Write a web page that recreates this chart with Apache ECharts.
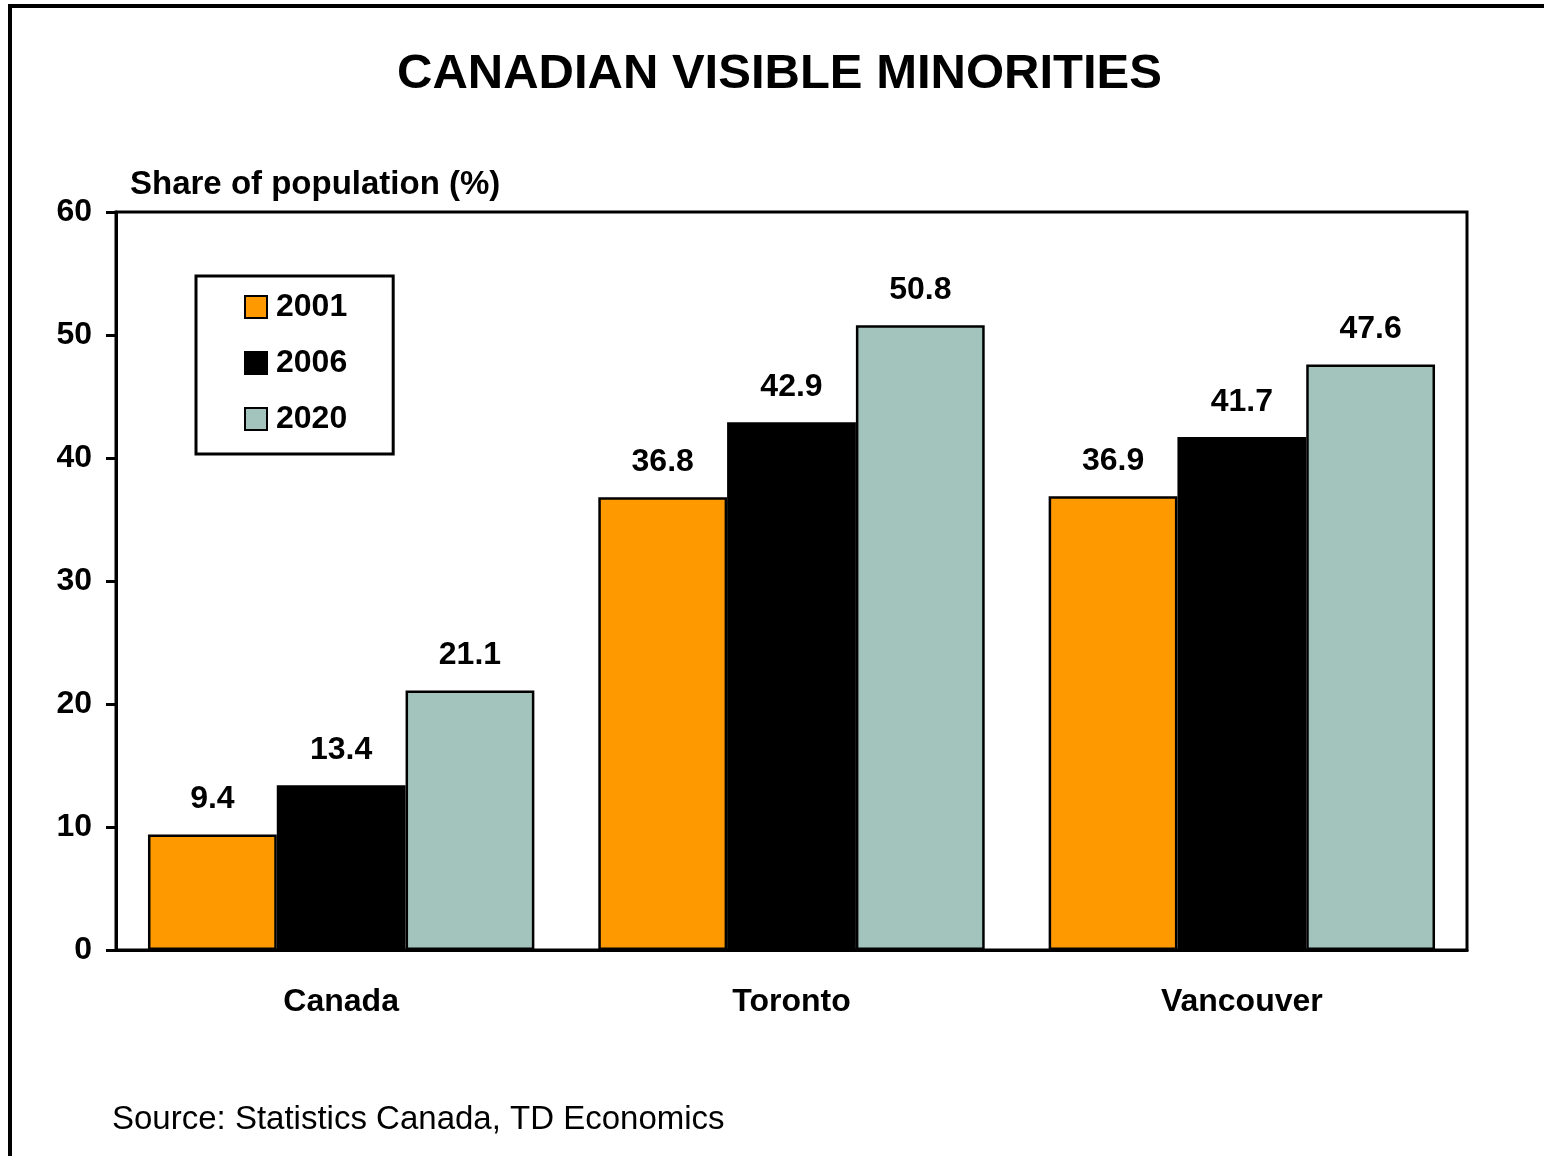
<!DOCTYPE html>
<html>
<head>
<meta charset="utf-8">
<script src="https://cdn.jsdelivr.net/npm/echarts@6/dist/echarts.min.js"></script>
<style>
html,body{margin:0;padding:0;background:#fff;}
#chart{width:1544px;height:1156px;}
</style>
</head>
<body>
<div id="chart"></div>
<script>
const categories = ['Canada', 'Toronto', 'Vancouver'];
const seriesNames = ['2001', '2006', '2020'];
const values2001 = [9.4, 36.8, 36.9];
const values2006 = [13.4, 42.9, 41.7];
const values2020 = [21.1, 50.8, 47.6];
const yTicks = [0, 10, 20, 30, 40, 50, 60];
const colors = ['#FF9900', '#000000', '#A3C4BC'];

const FONT = '"Liberation Sans", Arial, sans-serif';
const chart = echarts.init(document.getElementById('chart'));

const seriesData = [values2001, values2006, values2020];
const series = seriesNames.map((n, i) => ({
  name: n,
  type: 'bar',
  data: seriesData[i],
  barGap: '0%',
  barCategoryGap: '14.2%',
  itemStyle: { color: colors[i], borderColor: '#000', borderWidth: 2.5 },
  label: {
    show: true, position: 'top', distance: 19,
    color: '#000', fontFamily: FONT, fontWeight: 'bold', fontSize: 32,
    formatter: p => p.value.toFixed(1)
  }
}));

chart.setOption({
  animation: false,
  backgroundColor: '#fff',
  title: {
    text: 'CANADIAN VISIBLE MINORITIES',
    left: 397, top: 50, padding: 0,
    textStyle: { fontFamily: FONT, fontWeight: 'bold', fontSize: 49, color: '#000' }
  },
  legend: {
    orient: 'vertical',
    left: 196, top: 276,
    backgroundColor: '#fff',
    borderColor: '#000', borderWidth: 3,
    padding: [15, 46, 19, 48],
    itemWidth: 22, itemHeight: 22, itemGap: 24,
    icon: 'rect',
    data: seriesNames,
    textStyle: { fontFamily: FONT, fontWeight: 'bold', fontSize: 32, color: '#000', lineHeight: 32, padding: [0,0,0,4] }
  },
  grid: {
    left: 116, right: 77, top: 212, bottom: 206,
    show: true, borderColor: '#000', borderWidth: 3, backgroundColor: 'transparent'
  },
  xAxis: {
    type: 'category',
    data: categories,
    axisLine: { show: true, lineStyle: { color: '#000', width: 3 } },
    axisTick: { show: false },
    axisLabel: { margin: 36, color: '#000', fontFamily: FONT, fontWeight: 'bold', fontSize: 32 }
  },
  yAxis: {
    type: 'value',
    min: yTicks[0], max: yTicks[yTicks.length - 1], interval: 10,
    name: 'Share of population (%)',
    nameLocation: 'end',
    nameGap: 11,
    nameTextStyle: { align: 'left', padding: [0, 0, 0, 14], color: '#000', fontFamily: FONT, fontWeight: 'bold', fontSize: 33 },
    splitLine: { show: false },
    axisLine: { show: true, lineStyle: { color: '#000', width: 3 } },
    axisTick: { show: true, inside: false, length: 10, lineStyle: { color: '#000', width: 3 } },
    axisLabel: { margin: 24, color: '#000', fontFamily: FONT, fontWeight: 'bold', fontSize: 32 }
  },
  series: series,
  graphic: [
    {
      type: 'rect',
      shape: { x: 10, y: 6, width: 1700, height: 1300 },
      style: { fill: 'none', stroke: '#000', lineWidth: 4 },
      silent: true, z: 100
    },
    {
      type: 'text',
      left: 112, top: 1103,
      style: { text: 'Source: Statistics Canada, TD Economics', fill: '#000', font: '33px "Liberation Sans", Arial, sans-serif' }
    }
  ]
});
</script>
</body>
</html>
